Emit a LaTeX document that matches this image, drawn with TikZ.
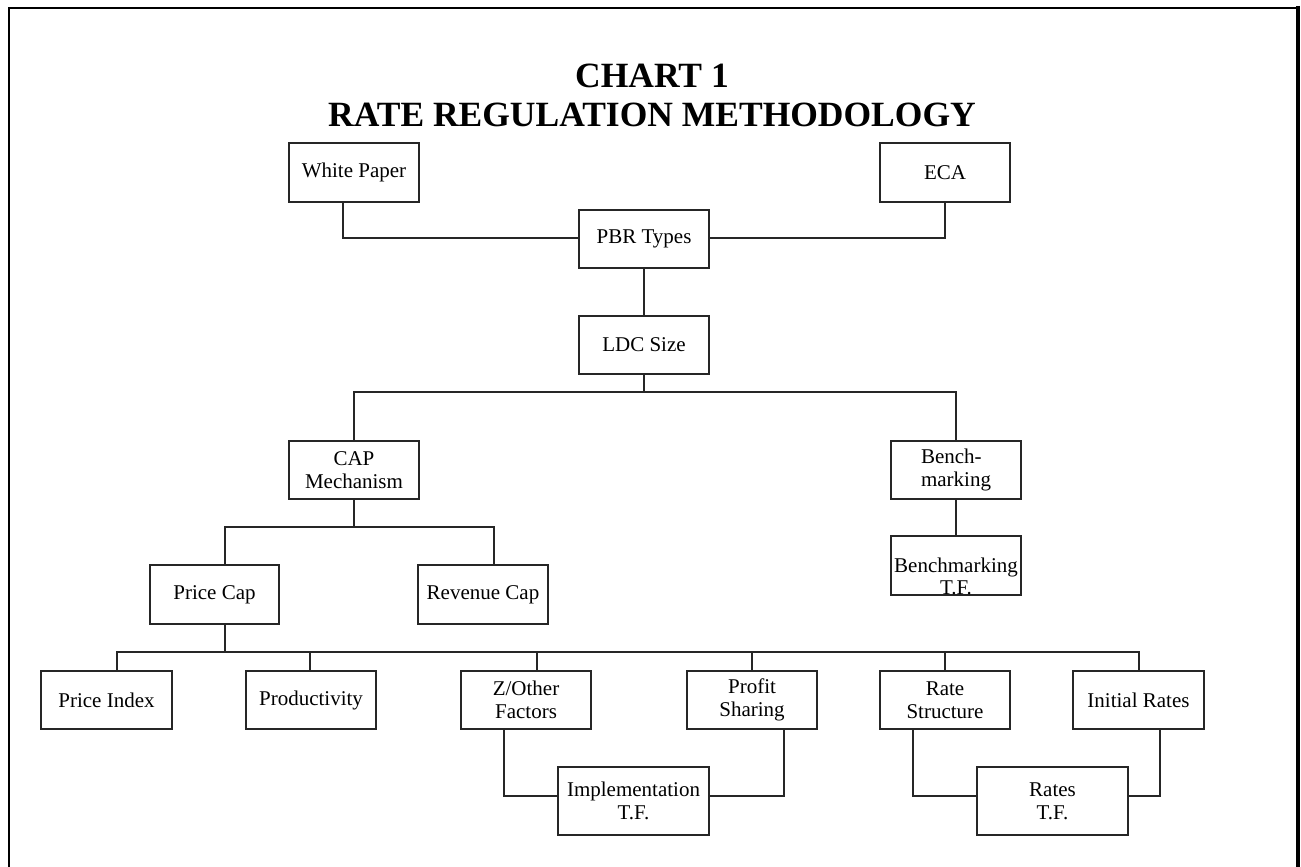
\documentclass[tikz,border=0pt]{standalone}
\usepackage{fontspec}
\setmainfont{Liberation Serif}
\begin{document}
\begin{tikzpicture}[x=1pt,y=-1pt,
  box/.style={draw=black!85, line width=1.15pt, minimum width=130pt, minimum height=58pt,
    inner sep=0pt, align=center, font=\fontsize{21}{23}\selectfont},
  tfbox/.style={box, minimum width=151pt, minimum height=68pt},
  conn/.style={draw=black!85, line width=1.15pt},
  titlestyle/.style={inner sep=0pt, anchor=base, font=\bfseries\fontsize{35.5}{38}\selectfont}
]
\useasboundingbox (0,0) rectangle (1301,867);
% outer frame
\draw[line width=2pt] (9,870) -- (9,8) -- (1297,8);
\draw[line width=4pt] (1298,6) -- (1298,870);
% title
\node[titlestyle] (t1) at (652,88) {CHART 1};
\node[titlestyle] (t2) at (652,126) {RATE REGULATION METHODOLOGY};
% top level
\node[box, minimum height=59pt] (wp) at (354,172.5) {White Paper};
\node[box, minimum height=59pt] (eca) at (945,172.5) {ECA};
\node[box] (pbr) at (644,239) {PBR Types};
\node[box] (ldc) at (644,345) {LDC Size};
\node[box] (cap) at (354,470) {CAP\\Mechanism};
\node[box, align=left] (bench) at (956,470) {Bench-\\marking};
\node[box, minimum height=59pt] (btf) at (956,565.5) {};
\node[align=center, inner sep=0pt, font=\fontsize{21}{22}\selectfont] (btft) at (956,576) {Benchmarking\\T.F.};
\node[box, minimum width=129pt, minimum height=59pt] (pc) at (214.5,594.5) {Price Cap};
\node[box, minimum height=59pt] (rc) at (483,594.5) {Revenue Cap};
% bottom row
\node[box, minimum width=131pt] (pi) at (106.5,700) {Price Index};
\node[box] (prod) at (311,700) {Productivity};
\node[box] (zo) at (526,700) {Z/Other\\Factors};
\node[box] (ps) at (752,700) {Profit\\Sharing};
\node[box] (rs) at (945,700) {Rate\\Structure};
\node[box, minimum width=131pt] (ir) at (1138.5,700) {Initial Rates};
\node[tfbox] (itf) at (633.5,801) {Implementation\\T.F.};
\node[tfbox] (rtf) at (1052.5,801) {Rates\\T.F.};
% junction coordinates
\coordinate (wpx) at (343,238);
\coordinate (j1) at (644,392);
\coordinate (j2) at (354,527);
\coordinate (pcx) at (225,527);
\coordinate (rcx) at (494,527);
\coordinate (j3) at (225,652);
\coordinate (pix) at (117,652);
\coordinate (irx) at (1139,652);
\coordinate (prx) at (310,652);
\coordinate (zox) at (537,652);
\coordinate (zob) at (504,796);
\coordinate (psb) at (784,796);
\coordinate (rsb) at (913,796);
\coordinate (irb) at (1160,796);
% connectors
\draw[conn] (wp.south -| wpx) -- (wpx) -- (wpx -| pbr.west);
\draw[conn] (pbr.east |- wpx) -| (eca.south);
\draw[conn] (pbr.south) -- (ldc.north);
\draw[conn] (ldc.south) -- (j1);
\draw[conn] (cap.north) -- (cap.north |- j1) -- (bench.north |- j1) -- (bench.north);
\draw[conn] (bench.south) -- (btf.north);
\draw[conn] (cap.south) -- (j2);
\draw[conn] (pcx |- pc.north) -- (pcx) -- (rcx) -- (rcx |- rc.north);
\draw[conn] (pcx |- pc.south) -- (j3);
\draw[conn] (pix |- pi.north) -- (pix) -- (irx) -- (irx |- ir.north);
\draw[conn] (prx |- prod.north) -- (prx);
\draw[conn] (zox |- zo.north) -- (zox);
\draw[conn] (ps.north) -- (ps.north |- pix);
\draw[conn] (rs.north) -- (rs.north |- pix);
\draw[conn] (zob |- zo.south) -- (zob) -- (zob -| itf.west);
\draw[conn] (psb |- ps.south) -- (psb) -- (psb -| itf.east);
\draw[conn] (rsb |- rs.south) -- (rsb) -- (rsb -| rtf.west);
\draw[conn] (irb |- ir.south) -- (irb) -- (irb -| rtf.east);
\end{tikzpicture}
\end{document}
